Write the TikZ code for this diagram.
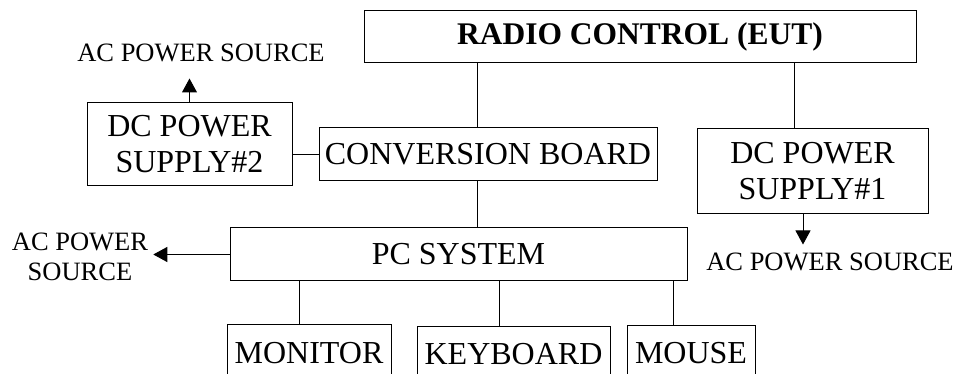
\documentclass[tikz,border=0pt]{standalone}
\usepackage{fontspec}
\setmainfont{Liberation Serif}
\usepackage{tikz}
\usetikzlibrary{
    positioning,
    calc,
    arrows.meta
}
\tikzset{
  block/.style = {
      draw,
      rectangle,
      line width=1pt,
      inner sep=0pt,
      align=center,
      font=\fontsize{32}{36}\selectfont
  },
  note/.style = {
      inner sep=0pt,
      align=center,
      font=\fontsize{26.5}{30}\selectfont
  },
  link/.style = {
      line width=1pt
  },
  power/.style = {
      line width=1pt,
      -{Triangle[length=14pt,width=15pt]}
  }
}

\begin{document}
\begin{tikzpicture}[x=1pt,y=1pt]
    \useasboundingbox (0,0) rectangle (958,374);
    \clip (0,0) rectangle (958,374);
    % Nodes
    \node[block, font=\fontsize{31.5}{36}\selectfont\bfseries,
          minimum width=552pt, minimum height=52pt] (radio) at (640,337) {RADIO CONTROL (EUT)};
    \node[block, minimum width=205pt, minimum height=83pt] (dc2) at (189.5,229.5) {DC POWER\\SUPPLY\#2};
    \node[block, minimum width=338pt, minimum height=53pt] (conv) at (488,219.5) {CONVERSION BOARD};
    \node[block, minimum width=231pt, minimum height=85pt] (dc1) at (812.5,202.5) {DC POWER\\SUPPLY\#1};
    \node[block, minimum width=457pt, minimum height=53pt] (pc) at (458.5,119.5) {PC SYSTEM};
    \node[block, minimum width=164pt, minimum height=56pt] (monitor) at (309,21) {MONITOR};
    \node[block, minimum width=193pt, minimum height=54pt] (keyboard) at (513.5,20) {KEYBOARD};
    \node[block, minimum width=128pt, minimum height=55pt] (mouse) at (691,20.5) {MOUSE};
    \node[note] (ac2) at (201,321) {AC POWER SOURCE};
    \node[note] (ac1) at (830,112) {AC POWER SOURCE};
    \node[note] (ac3) at (80,117) {AC POWER\\SOURCE};
    % Taps
    \coordinate (t1) at ([xshift=-11pt]conv.north);
    \coordinate (t2) at ([xshift=-18.5pt]dc1.north);
    \coordinate (m1) at ([xshift=-10pt]monitor.north);
    \coordinate (k1) at ([xshift=-14.5pt]keyboard.north);
    \coordinate (u1) at ([xshift=-18pt]mouse.north);
    \coordinate (d1) at ([xshift=-9.5pt]dc1.south);
    \coordinate (e1) at ([yshift=-30pt]d1);
    \coordinate (e2) at ([yshift=24pt]dc2.north);
    \coordinate (e3) at ([xshift=5pt]pc.west -| ac3.east);
    % Edges
    \path[draw, link]
    (t1) -- (t1 |- radio.south)
    (t2) -- (t2 |- radio.south)
    (conv.west) -- (conv.west -| dc2.east)
    (t1 |- conv.south) -- (t1 |- pc.north)
    (m1) -- (m1 |- pc.south)
    (k1) -- (k1 |- pc.south)
    (u1) -- (u1 |- pc.south);
    \draw[power] (dc2.north) -- (e2);
    \draw[power] (d1) -- (e1);
    \draw[power] (pc.west) -- (e3);
\end{tikzpicture}
\end{document}
